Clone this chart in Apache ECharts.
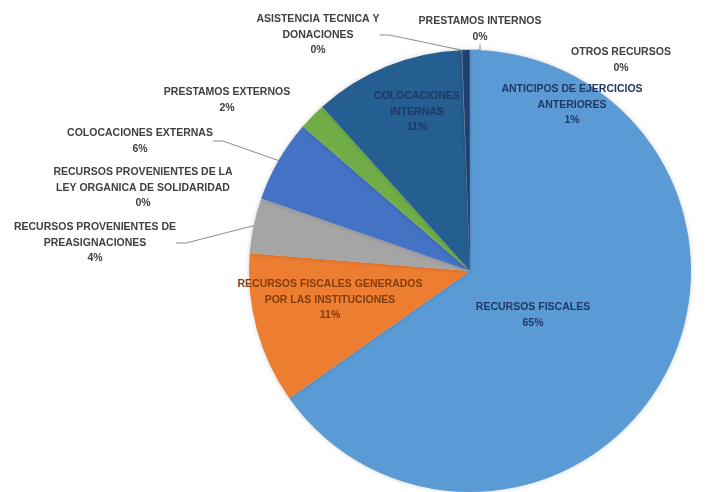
<!DOCTYPE html>
<html>
<head>
<meta charset="utf-8">
<script src="https://cdn.jsdelivr.net/npm/echarts@6/dist/echarts.min.js"></script>
<style>
  html, body { margin: 0; padding: 0; background: #fff; }
  #chart { width: 714px; height: 492px; }
</style>
</head>
<body>
<div id="chart"></div>
<script>
// categorias en el orden del pastel (desde las 12 en sentido horario)
const categories = [
  'RECURSOS FISCALES',
  'RECURSOS FISCALES GENERADOS\nPOR LAS INSTITUCIONES',
  'RECURSOS PROVENIENTES DE\nPREASIGNACIONES',
  'RECURSOS PROVENIENTES DE LA\nLEY ORGANICA DE SOLIDARIDAD',
  'COLOCACIONES EXTERNAS',
  'PRESTAMOS EXTERNOS',
  'COLOCACIONES\nINTERNAS',
  'ASISTENCIA TECNICA Y\nDONACIONES',
  'PRESTAMOS INTERNOS',
  'ANTICIPOS DE EJERCICIOS\nANTERIORES',
  'OTROS RECURSOS'
]
// porcentajes
const values = [65, 11, 4, 0.02, 6, 2, 11, 0.02, 0.02, 0.55, 0.02]

const colors = ['#5b9bd5', '#ed7d31', '#a5a5a5', '#a5a5a5', '#4472c4', '#70ad47',
  '#255e91', '#255e91', '#4a74a8', '#1f3f6e', '#1f3f6e']
const textColors = ['#1f3864', '#843c0c', '#404040', '#404040', '#404040', '#404040',
  '#1f3864', '#404040', '#404040', '#1f3864', '#404040']
const showLine = [false, false, true, false, true, false, false, true, true, false, false]
// centro de cada etiqueta en pixeles
const labelPos = [
  [533, 315], [330, 300], [95, 243], [143, 188], [140, 141], [227, 100],
  [417, 112], [318, 35], [480, 29], [572, 105], [621, 60]
]

const chart = echarts.init(document.getElementById('chart'))

const option = {
  backgroundColor: '#fff',
  animation: false,
  series: [{
    type: 'pie',
    center: [470, 271],
    radius: 221,
    startAngle: 90,
    clockwise: true,
    avoidLabelOverlap: false,
    itemStyle: {
      shadowBlur: 5,
      shadowColor: 'rgba(0,0,0,0.18)'
    },
    label: {
      position: 'outside',
      fontFamily: 'Liberation Sans',
      fontWeight: 'bold',
      fontSize: 10.5,
      lineHeight: 15.5,
      align: 'center',
      formatter: p => p.name + '\n' + Math.round(p.percent) + '%'
    },
    labelLine: {
      length: 10,
      length2: 10,
      lineStyle: { color: '#8c8c8c', width: 1 }
    },
    labelLayout: params => {
      const i = params.dataIndex
      return {
        x: labelPos[i][0],
        y: labelPos[i][1],
        align: 'center',
        verticalAlign: 'middle'
      }
    },
    data: categories.map((name, i) => ({
      name: name,
      value: values[i],
      itemStyle: { color: colors[i] },
      label: { color: textColors[i] },
      labelLine: { show: showLine[i] }
    }))
  }]
}

chart.setOption(option)
</script>
</body>
</html>
